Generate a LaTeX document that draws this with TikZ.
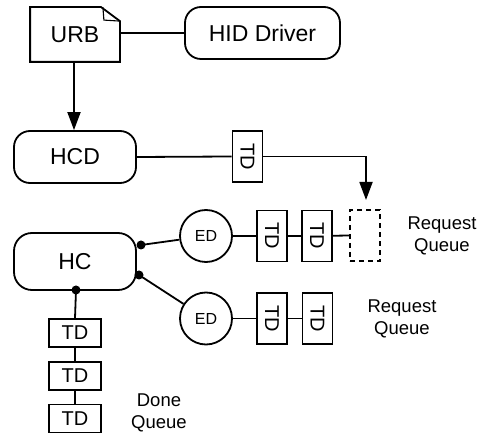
\documentclass[tikz,border=0pt]{standalone}
\usepackage{fontspec}
\setmainfont{Liberation Sans}
\usetikzlibrary{arrows.meta}
\begin{document}
\begin{tikzpicture}[x=1pt,y=-1pt,line width=1.8pt,
  rbox/.style={draw,rounded corners=16pt,inner sep=0pt,font=\fontsize{23}{26}\selectfont},
  tdv/.style={draw,inner sep=0pt,minimum width=30pt,minimum height=51pt,font=\fontsize{20}{22}\selectfont},
  tdh/.style={draw,inner sep=0pt,minimum width=52pt,minimum height=28pt,font=\fontsize{20}{22}\selectfont},
  edc/.style={draw,circle,inner sep=0pt,minimum size=52pt,font=\fontsize{16}{18}\selectfont},
  jdot/.style={circle,fill,inner sep=0pt,minimum size=9pt},
  qlabel/.style={align=center,font=\fontsize{18.5}{21.5}\selectfont},
  arr/.style={-{Triangle[width=13pt,length=18pt]}}]
\useasboundingbox (0,0) rectangle (479,435);

% URB document with folded corner
\node[minimum width=88pt,minimum height=53pt,inner sep=0pt,font=\fontsize{23}{26}\selectfont] (urb) at (75,34.5) {URB};
\draw[line join=miter] (urb.north west) -- ++(71,0) -- ([yshift=-14pt]urb.north east) -- (urb.south east) -- (urb.south west) -- cycle;
\draw[line width=1.1pt] ([xshift=-17pt]urb.north east) -- ([xshift=-16pt,yshift=-13pt]urb.north east) -- ([yshift=-14pt]urb.north east);

\node[rbox,minimum width=155pt,minimum height=52pt] (hid) at (262.5,33) {HID Driver};
\node[rbox,minimum width=122pt,minimum height=52pt] (hcd) at (75,157) {HCD};
\node[rbox,rounded corners=18pt,minimum width=122pt,minimum height=57pt] (hc) at (75,261.5) {HC};

% TD travelling from HCD to the request queue
\node[tdv] (tdtop) at (247.5,156.5) {\rotatebox{-90}{TD}};
\coordinate (bend) at (366,156.5);
\coordinate (tip) at (366,200);

% endpoint descriptors with their transfer descriptors
\node[edc] (ed1) at (206,236) {ED};
\node[edc] (ed2) at (206,318.5) {ED};
\node[tdv] (ta1) at (272,236) {\rotatebox{-90}{TD}};
\node[tdv] (ta2) at (317,236) {\rotatebox{-90}{TD}};
\node[draw,dashed,dash pattern=on 5pt off 4pt,inner sep=0pt,minimum width=30pt,minimum height=51pt] (slot) at (365,235.5) {};
\node[tdv] (tb1) at (272,318.5) {\rotatebox{-90}{TD}};
\node[tdv] (tb2) at (317.5,318.5) {\rotatebox{-90}{TD}};

% done queue
\node[tdh] (dq1) at (75,333) {TD};
\node[tdh] (dq2) at (75,376) {TD};
\node[tdh] (dq3) at (75,418.5) {TD};

% junction dots on the host controller
\node[jdot] (j1) at (141,245) {};
\node[jdot] (j2) at (139,275) {};
\node[jdot] (j3) at (76,290) {};

% connectors
\draw (urb.east |- hid.west) -- (hid.west);
\draw[arr] (urb.south -| 74,0) -- (hcd.north -| 74,0);
\draw (hcd.east) -- (tdtop.west);
\draw[arr] (tdtop.east) -- (bend) -- (tip);
\draw (j1.center) -- (ed1);
\draw (j2.center) -- (ed2);
\draw (j3.center) -- (dq1.north);
\draw (dq1) -- (dq2);
\draw (dq2) -- (dq3);
\draw (ed1) -- (ta1);
\draw (ta1) -- (ta2);
\draw (ta2) -- (slot.west);
\draw (ed2) -- (tb1);
\draw (tb1) -- (tb2);

% queue labels
\node[qlabel] (rq1) at (442,236) {Request\\Queue};
\node[qlabel] (rq2) at (402,319) {Request\\Queue};
\node[qlabel] (dql) at (159,413) {Done\\Queue};
\end{tikzpicture}
\end{document}
